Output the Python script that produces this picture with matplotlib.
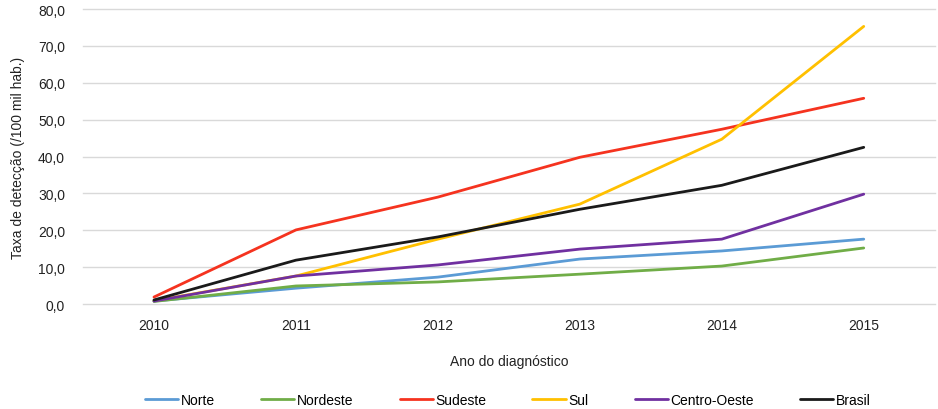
import matplotlib.pyplot as plt
from matplotlib.ticker import FuncFormatter

plt.rcParams['font.family'] = ['Liberation Sans', 'DejaVu Sans']

anos = [2010, 2011, 2012, 2013, 2014, 2015]
norte = [0.8, 4.3, 7.3, 12.2, 14.4, 17.6]
nordeste = [0.7, 4.9, 6.0, 8.1, 10.3, 15.2]
sudeste = [1.9, 20.1, 29.0, 39.8, 47.4, 55.8]
sul = [0.9, 7.6, 17.6, 27.1, 44.7, 75.3]
centro_oeste = [0.8, 7.6, 10.6, 14.9, 17.6, 29.8]
brasil = [1.1, 11.9, 18.2, 25.7, 32.2, 42.5]

series = [
    ("Norte", norte, "#5B9BD5"),
    ("Nordeste", nordeste, "#70AD47"),
    ("Sudeste", sudeste, "#F5331F"),
    ("Sul", sul, "#FFC000"),
    ("Centro-Oeste", centro_oeste, "#7030A0"),
    ("Brasil", brasil, "#1A1A1A"),
]

fig = plt.figure(figsize=(9.38, 4.10), dpi=100)
ax = fig.add_axes([0.0885, 0.256, 0.908, 0.7195])

for nome, valores, cor in series:
    ax.plot(anos, valores, color=cor, lw=2.0, label=nome, solid_capstyle='round')

ax.set_xlim(2009.5, 2015.5)
ax.set_ylim(0, 80)
ax.set_yticks(range(0, 81, 10))
ax.set_xticks(anos)
ax.yaxis.set_major_formatter(FuncFormatter(lambda v, p: f"{v:.1f}".replace('.', ',')))
ax.grid(axis='y', color='#D9D9D9', lw=1)
for gl in ax.get_ygridlines():
    gl.set_clip_on(False)
ax.set_axisbelow(True)
for s in ax.spines.values():
    s.set_visible(False)
ax.tick_params(length=0, labelsize=10, colors='#222222')
ax.tick_params(axis='y', pad=13)
ax.tick_params(axis='x', pad=10)

ax.set_xlabel("Ano do diagnóstico", fontsize=10, color='#222222', labelpad=16)
ax.set_ylabel("Taxa de detecção (/100 mil hab.)", fontsize=10, color='#222222', labelpad=9)

fig.legend(loc='lower center', bbox_to_anchor=(0.5416, -0.025), ncol=6, frameon=False,
           fontsize=10, handlelength=2.4, columnspacing=3.3, handletextpad=0.2)

fig.savefig("out.png", dpi=100)
